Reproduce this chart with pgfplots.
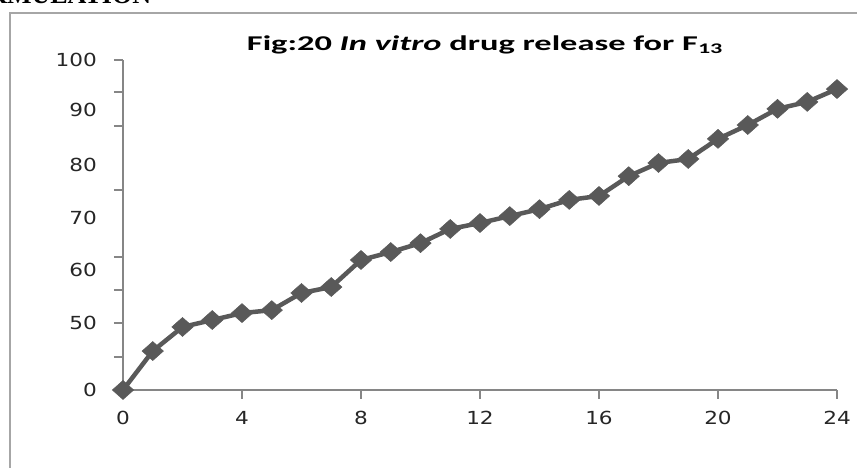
\documentclass[border=0pt]{standalone}
\usepackage{graphicx}
\usepackage{pgfplots}
\pgfplotsset{compat=1.18}
\usepackage{fontspec}
\setmainfont{Liberation Serif}
\newfontfamily\tickfont[FakeStretch=1.2]{DejaVu Sans}
\newfontfamily\titlefont[FakeStretch=1.45]{Carlito}
\definecolor{linegray}{HTML}{595959}
\definecolor{axisgray}{HTML}{868686}
\definecolor{framegray}{HTML}{A6A6A6}

\begin{document}
\begin{tikzpicture}[x=1pt,y=1pt]
\useasboundingbox (0,0) rectangle (857,468);
% heading of the page, cut off at the top
\node[anchor=base west, inner sep=0, font=\fontsize{26}{26}\selectfont\bfseries] at (-48,464) {FORMULATION};
% chart frame
\draw[framegray, line width=2.5pt] (10,-20) -- (10,455) -- (900,455);
\node[font=\titlefont\fontsize{21}{21}\selectfont\bfseries] at (485,423)
  {\scalebox{1.13}[1]{Fig:20 \textit{In vitro} drug release for F\textsubscript{13}}};
\begin{axis}[
  at={(123pt,78pt)}, anchor=south west,
  scale only axis, width=714pt, height=330pt,
  xmin=0, xmax=24, ymin=0, ymax=100,
  clip=false,
  axis x line=bottom, axis y line=left,
  axis line style={axisgray, line width=1.3pt, -},
  /pgf/number format/assume math mode=true,
  xtick={0,4,...,24},
  ytick={0,10,20.3,30.3,40.3,60.6,80,90.3,100},
  yticklabels={},
  extra y ticks={0,20.3,36.4,52.1,68.2,84.8,100},
  extra y tick labels={0,50,60,70,80,90,100},
  extra y tick style={major tick length=0pt},
  tick align=outside,
  major tick length=9pt,
  tick style={axisgray, line width=1.3pt},
  xticklabel style={font=\tickfont\fontsize{18}{18}\selectfont, text=black!85, inner sep=0, anchor=north, yshift=-12pt},
  yticklabel style={font=\tickfont\fontsize{18}{18}\selectfont, text=black!85, inner sep=0, anchor=east, xshift=-26pt},
]
\addplot[linegray, line width=4.5pt, mark=diamond*, mark size=9.5pt,
  mark options={xscale=1.5, line width=0.5pt, solid}]
  coordinates {
  (0,0)(1,11.8)(2,19.1)(3,21.2)(4,23.3)(5,24.2)(6,29.4)(7,31.2)(8,39.4)
  (9,41.8)(10,44.5)(11,48.8)(12,50.6)(13,52.7)(14,54.8)(15,57.6)(16,58.8)
  (17,64.8)(18,68.8)(19,70.0)(20,76.1)(21,80.3)(22,85.2)(23,87.3)(24,91.2)
  };
\end{axis}
\end{tikzpicture}
\end{document}
